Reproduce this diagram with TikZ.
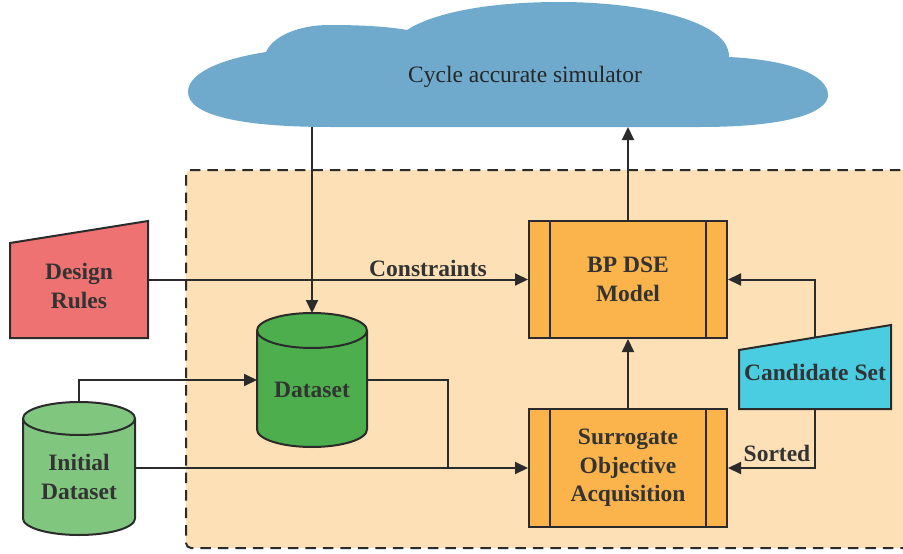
\documentclass[tikz,border=0pt]{standalone}
\usepackage{fontspec}
\setmainfont{Liberation Serif}
\usetikzlibrary{arrows.meta,calc}
\definecolor{ink}{HTML}{2B2B2B}
\definecolor{txt}{HTML}{333333}
\definecolor{cloudblue}{HTML}{6FAACD}
\definecolor{panel}{HTML}{FDE0B5}
\definecolor{rulered}{HTML}{EF7272}
\definecolor{lightgreen}{HTML}{80C67F}
\definecolor{darkgreen}{HTML}{4CAE4C}
\definecolor{procorange}{HTML}{FBB44B}
\definecolor{candcyan}{HTML}{4ACDE0}
\begin{document}
\begin{tikzpicture}[x=1pt,y=-1pt,
  lbl/.style={font=\fontsize{23.5}{28.5}\selectfont\bfseries, text=txt, align=center, inner sep=0pt},
  plain/.style={font=\fontsize{23.5}{28.5}\selectfont, text=black!85, inner sep=0pt},
  outline/.style={draw=ink, line width=2pt},
  conn/.style={draw=ink, line width=2pt},
  arr/.style={conn, -{Triangle[length=13pt,width=12pt]}},
  anchorbox/.style={inner sep=0pt, outer sep=0pt},
  proc/.style={lbl, outline, fill=procorange, minimum width=198pt, minimum height=117pt}]

\useasboundingbox (0,0) rectangle (903,554);

% working area
\draw[draw=ink, line width=2pt, fill=panel, dash pattern=on 10.5pt off 7pt, rounded corners=5pt]
  (186,170) rectangle (915,548);

% simulator cloud
\fill[cloudblue] (266,52) .. controls (215,60) and (188,75) .. (188,92)
  .. controls (188,115) and (240,127) .. (330,127) -- (700,127)
  .. controls (790,127) and (828,112) .. (828,95)
  .. controls (828,75) and (790,60) .. (729,57)
  .. controls (730,20) and (640,2) .. (560,2)
  .. controls (480,2) and (430,15) .. (407,30)
  .. controls (385,26) and (355,25) .. (330,25)
  .. controls (295,25) and (272,38) .. (266,52) -- cycle;
\node[anchorbox, minimum width=640pt, minimum height=125pt] (cloud) at (508,64.5) {};
\node[plain] (sim) at (525,77) {Cycle accurate simulator};

% design rules
\coordinate (drtl) at (10,243);
\coordinate (drtr) at (148,221);
\draw[outline, fill=rulered] (drtl) -- (drtr) -- (148,338) -- (10,338) -- cycle;
\node[lbl, minimum width=138pt] (dr) at (79,286) {Design\\Rules};

% initial dataset cylinder
\draw[outline, fill=lightgreen] (23,418.5) -- (23,518.5)
  arc[start angle=180, end angle=360, x radius=56pt, y radius=16.5pt]
  -- (135,418.5)
  arc[start angle=0, end angle=180, x radius=56pt, y radius=16.5pt] -- cycle;
\draw[outline] (23,418.5) arc[start angle=180, end angle=360, x radius=56pt, y radius=16.5pt];
\node[anchorbox, minimum width=112pt, minimum height=133pt] (init) at (79,468.5) {};
\node[lbl] (inittext) at (79,477) {Initial\\Dataset};

% dataset cylinder
\draw[outline, fill=darkgreen] (257,330.5) -- (257,429.5)
  arc[start angle=180, end angle=360, x radius=55pt, y radius=17.5pt]
  -- (367,330.5)
  arc[start angle=0, end angle=180, x radius=55pt, y radius=17.5pt] -- cycle;
\draw[outline] (257,330.5) arc[start angle=180, end angle=360, x radius=55pt, y radius=17.5pt];
\node[anchorbox, minimum width=110pt, minimum height=134pt] (ds) at (312,380) {};
\node[lbl] (dstext) at (312,390) {Dataset};

% process boxes
\node[proc] (bp) at (628,279.5) {BP DSE\\Model};
\draw[outline] ([xshift=22pt]bp.north west) -- ([xshift=22pt]bp.south west);
\draw[outline] ([xshift=-22pt]bp.north east) -- ([xshift=-22pt]bp.south east);

\node[proc, minimum height=118pt] (soa) at (628,468) {Surrogate\\Objective\\Acquisition};
\draw[outline] ([xshift=22pt]soa.north west) -- ([xshift=22pt]soa.south west);
\draw[outline] ([xshift=-22pt]soa.north east) -- ([xshift=-22pt]soa.south east);

% candidate set
\coordinate (cstl) at (739,350);
\coordinate (cstr) at (891,325);
\coordinate (csb) at (815,409);
\draw[outline, fill=candcyan] (cstl) -- (cstr) -- (891,409) -- (739,409) -- cycle;
\node[lbl] (cs) at (815,372) {Candidate Set};

% connectors
\draw[arr] (cloud.south -| ds.north) -- (ds.north);
\draw[arr] (bp.north) -- (bp.north |- cloud.south);
\draw[arr] (dr.east |- bp.west) -- (bp.west);
\node[lbl] (constr) at (428,268) {Constraints};
\draw[arr] (init.north) -- (init.north |- ds.west) -- (ds.west);
\coordinate (merge) at (448,468);
\draw[conn] (ds.east) -| (merge);
\draw[arr] (init.east |- soa.west) -- (soa.west);
\draw[arr] (soa.north) -- (bp.south);
\draw[arr] ($(cstl)!0.5!(cstr)$) |- (bp.east);
\draw[arr] (csb) |- (soa.east);
\node[lbl] (sorted) at (777,453) {Sorted};
\end{tikzpicture}
\end{document}
